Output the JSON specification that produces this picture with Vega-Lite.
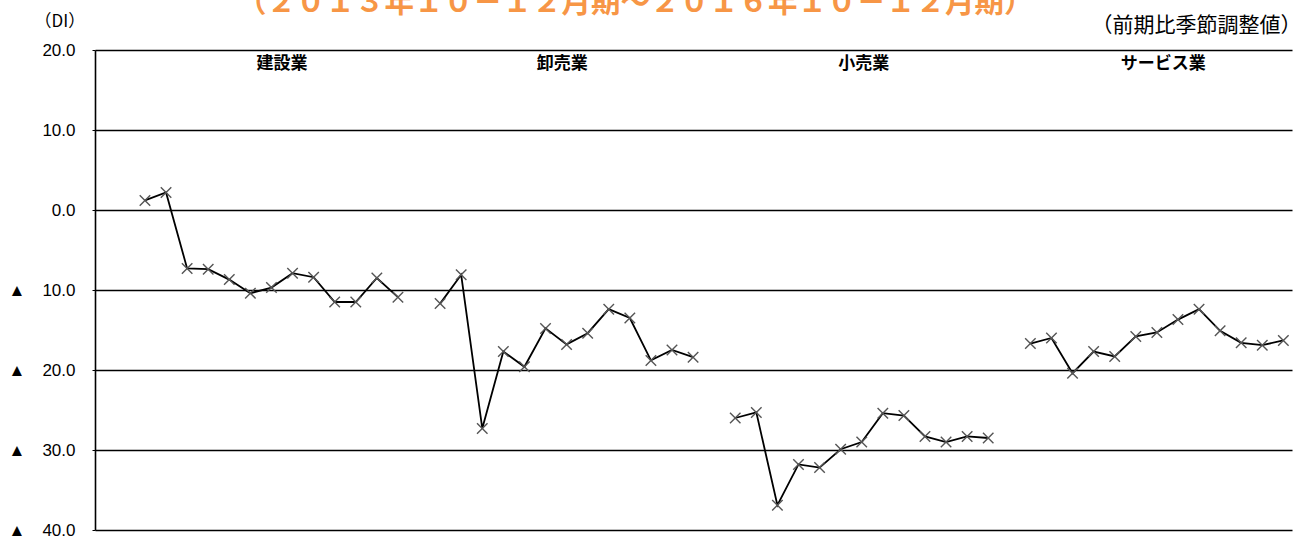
{
  "$schema": "https://vega.github.io/schema/vega-lite/v6.json",
  "autosize": {"type": "none"},
  "padding": {"left": 95, "top": 50, "right": 11, "bottom": 8},
  "width": 1197,
  "height": 480,
  "background": "white",
  "config": {"view": {"stroke": null}},
  "title": {
    "text": "（２０１３年１０－１２月期～２０１６年１０－１２月期）",
    "color": "#F79646",
    "font": "Noto Sans CJK JP",
    "fontSize": 29.5,
    "fontWeight": "bold",
    "anchor": "start",
    "frame": "group",
    "baseline": "alphabetic",
    "dx": 142,
    "dy": 29,
    "offset": 0
  },
  "datasets": {
    "di": [
      {"industry": "建設業", "q": 0, "slot": 0, "di": 1.2},
      {"industry": "建設業", "q": 1, "slot": 1, "di": 2.2},
      {"industry": "建設業", "q": 2, "slot": 2, "di": -7.3},
      {"industry": "建設業", "q": 3, "slot": 3, "di": -7.4},
      {"industry": "建設業", "q": 4, "slot": 4, "di": -8.7},
      {"industry": "建設業", "q": 5, "slot": 5, "di": -10.4},
      {"industry": "建設業", "q": 6, "slot": 6, "di": -9.7},
      {"industry": "建設業", "q": 7, "slot": 7, "di": -7.9},
      {"industry": "建設業", "q": 8, "slot": 8, "di": -8.4},
      {"industry": "建設業", "q": 9, "slot": 9, "di": -11.5},
      {"industry": "建設業", "q": 10, "slot": 10, "di": -11.5},
      {"industry": "建設業", "q": 11, "slot": 11, "di": -8.5},
      {"industry": "建設業", "q": 12, "slot": 12, "di": -10.9},
      {"industry": "卸売業", "q": 0, "slot": 14, "di": -11.7},
      {"industry": "卸売業", "q": 1, "slot": 15, "di": -8.1},
      {"industry": "卸売業", "q": 2, "slot": 16, "di": -27.3},
      {"industry": "卸売業", "q": 3, "slot": 17, "di": -17.7},
      {"industry": "卸売業", "q": 4, "slot": 18, "di": -19.6},
      {"industry": "卸売業", "q": 5, "slot": 19, "di": -14.8},
      {"industry": "卸売業", "q": 6, "slot": 20, "di": -16.8},
      {"industry": "卸売業", "q": 7, "slot": 21, "di": -15.4},
      {"industry": "卸売業", "q": 8, "slot": 22, "di": -12.4},
      {"industry": "卸売業", "q": 9, "slot": 23, "di": -13.5},
      {"industry": "卸売業", "q": 10, "slot": 24, "di": -18.8},
      {"industry": "卸売業", "q": 11, "slot": 25, "di": -17.5},
      {"industry": "卸売業", "q": 12, "slot": 26, "di": -18.4},
      {"industry": "小売業", "q": 0, "slot": 28, "di": -26.0},
      {"industry": "小売業", "q": 1, "slot": 29, "di": -25.3},
      {"industry": "小売業", "q": 2, "slot": 30, "di": -36.9},
      {"industry": "小売業", "q": 3, "slot": 31, "di": -31.8},
      {"industry": "小売業", "q": 4, "slot": 32, "di": -32.2},
      {"industry": "小売業", "q": 5, "slot": 33, "di": -29.9},
      {"industry": "小売業", "q": 6, "slot": 34, "di": -29.0},
      {"industry": "小売業", "q": 7, "slot": 35, "di": -25.4},
      {"industry": "小売業", "q": 8, "slot": 36, "di": -25.7},
      {"industry": "小売業", "q": 9, "slot": 37, "di": -28.3},
      {"industry": "小売業", "q": 10, "slot": 38, "di": -29.0},
      {"industry": "小売業", "q": 11, "slot": 39, "di": -28.3},
      {"industry": "小売業", "q": 12, "slot": 40, "di": -28.5},
      {"industry": "サービス業", "q": 0, "slot": 42, "di": -16.7},
      {"industry": "サービス業", "q": 1, "slot": 43, "di": -16.0},
      {"industry": "サービス業", "q": 2, "slot": 44, "di": -20.4},
      {"industry": "サービス業", "q": 3, "slot": 45, "di": -17.7},
      {"industry": "サービス業", "q": 4, "slot": 46, "di": -18.3},
      {"industry": "サービス業", "q": 5, "slot": 47, "di": -15.8},
      {"industry": "サービス業", "q": 6, "slot": 48, "di": -15.3},
      {"industry": "サービス業", "q": 7, "slot": 49, "di": -13.7},
      {"industry": "サービス業", "q": 8, "slot": 50, "di": -12.4},
      {"industry": "サービス業", "q": 9, "slot": 51, "di": -15.1},
      {"industry": "サービス業", "q": 10, "slot": 52, "di": -16.6},
      {"industry": "サービス業", "q": 11, "slot": 53, "di": -16.9},
      {"industry": "サービス業", "q": 12, "slot": 54, "di": -16.3}
    ],
    "labels": [
      {"industry": "建設業", "slot": 6.5},
      {"industry": "卸売業", "slot": 19.8},
      {"industry": "小売業", "slot": 34.1},
      {"industry": "サービス業", "slot": 48.3}
    ]
  },
  "encoding": {
    "x": {
      "field": "slot",
      "type": "quantitative",
      "scale": {"domain": [-2.37, 54.41], "nice": false, "zero": false},
      "axis": {
        "orient": "top",
        "labels": false,
        "ticks": false,
        "domain": false,
        "grid": false,
        "title": "（前期比季節調整値）",
        "titleFont": "Noto Sans CJK JP",
        "titleFontSize": 21,
        "titleFontWeight": "normal",
        "titleColor": "#000000",
        "titleAlign": "right",
        "titleAnchor": "start",
        "titleBaseline": "middle",
        "titleX": 1206,
        "titleY": -25
      }
    }
  },
  "layer": [
    {
      "data": {"name": "di"},
      "mark": {"type": "line", "color": "#000000", "strokeWidth": 1.8},
      "encoding": {
        "y": {
          "field": "di",
          "type": "quantitative",
          "scale": {"domain": [-40, 20], "nice": false, "zero": false},
          "axis": {
            "values": [-40, -30, -20, -10, 0, 10, 20],
            "grid": true,
            "gridColor": "#000000",
            "gridWidth": 1.3,
            "gridOpacity": 1,
            "domain": true,
            "domainColor": "#000000",
            "domainWidth": 1.6,
            "ticks": true,
            "tickSize": 3,
            "tickColor": "#000000",
            "labelFont": "Liberation Sans, Noto Sans CJK JP",
            "labelFontSize": 17,
            "labelColor": "#000000",
            "labelPadding": 17,
            "labelExpr": "datum.value < 0 ? '▲　' + format(-datum.value, '.1f') : format(datum.value, '.1f')",
            "title": "（DI）",
            "titleFont": "Noto Sans CJK JP",
            "titleFontSize": 17,
            "titleFontWeight": "normal",
            "titleColor": "#000000",
            "titleAngle": 0,
            "titleAlign": "left",
            "titleBaseline": "middle",
            "titleX": -61,
            "titleY": -29
          }
        },
        "detail": {"field": "industry"}
      }
    },
    {
      "data": {"name": "di"},
      "mark": {
        "type": "point",
        "shape": "M-1,-1L1,1M-1,1L1,-1",
        "filled": false,
        "stroke": "#555555",
        "strokeWidth": 1.4,
        "size": 110,
        "opacity": 1
      },
      "encoding": {
        "y": {"field": "di", "type": "quantitative"}
      }
    },
    {
      "data": {"name": "labels"},
      "mark": {
        "type": "text",
        "font": "Noto Sans CJK JP",
        "fontSize": 17,
        "fontWeight": "bold",
        "color": "#000000",
        "baseline": "middle",
        "align": "center",
        "dy": 14
      },
      "encoding": {
        "text": {"field": "industry"},
        "y": {"datum": 20, "type": "quantitative"}
      }
    }
  ]
}
